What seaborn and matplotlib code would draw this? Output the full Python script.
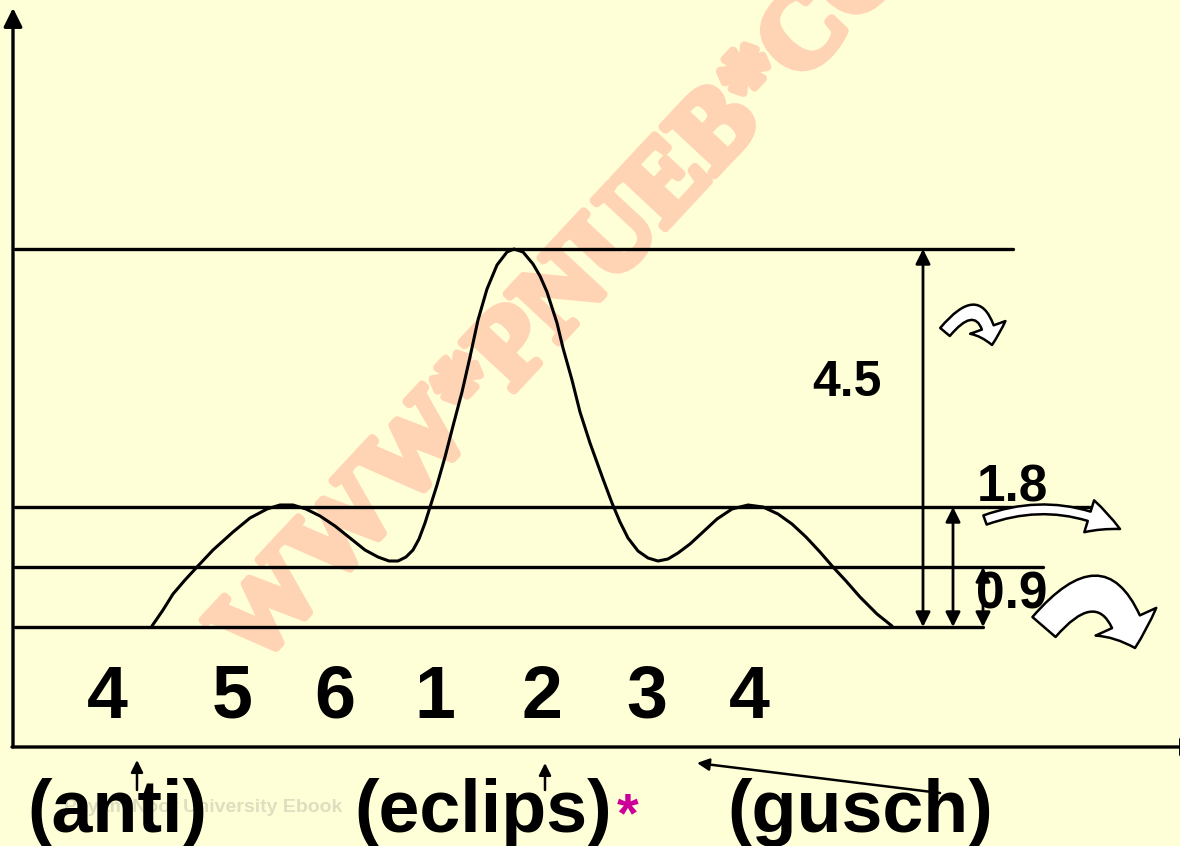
import numpy as np
import pandas as pd
import seaborn as sns
import matplotlib
matplotlib.use("Agg")
import matplotlib.pyplot as plt
import matplotlib.patheffects as pe
from matplotlib.patches import FancyArrowPatch, ArrowStyle

# ---------------- data (schematic energy profile) ----------------
# x: horizontal position along the rotation coordinate (drawing units)
# y: height above the lowest level (drawing units, baseline = 0)
curve_x = [152, 163, 173, 185, 197, 213, 233, 250, 267, 280, 293, 306, 320, 335,
           350, 365, 378, 389, 398, 406, 413, 419, 425, 431, 437, 445, 453, 462,
           470, 478, 487, 497, 507, 514, 523, 533, 540, 547, 557, 563, 572, 580,
           590, 603, 612, 620, 628, 638, 648, 658, 668, 678, 690, 703, 717, 732,
           748, 763, 778, 792, 806, 820, 833, 846, 860, 877, 892]
curve_px = [626, 610, 594, 580, 567, 550, 532, 518, 509, 505, 505, 509, 516, 526,
            538, 550, 557, 561, 561, 557, 550, 539, 523, 504, 485, 457, 426, 392,
            357, 320, 289, 265, 252, 249, 252, 264, 276, 292, 323, 348, 380, 412,
            443, 479, 503, 522, 538, 551, 558, 561, 559, 553, 544, 532, 519, 509,
            505, 507, 514, 524, 537, 552, 567, 581, 597, 614, 626]
BASE = 627
curve_y = [BASE - v for v in curve_px]

level_labels = ["4.5", "1.8", "0.9"]
level_heights = [378, 120, 60]          # drawn heights of the three barriers
level_right = [1013, 1090, 1043]        # right end of each level line
arrow_x = [923, 953, 983]               # double arrows for each barrier

angle_labels = ["4", "5", "6", "1", "2", "3", "4"]
angle_pos = [107, 232, 335, 435, 542, 647, 749]

conf_labels = ["(anti)", "(eclips)", "(gusch)"]
conf_pos = [117, 483, 860]

# ---------------- style ----------------
BG = "#FFFFD7"
sns.set_theme(style="white", rc={"figure.facecolor": BG, "axes.facecolor": BG,
                                 "text.color": "black"})
plt.rcParams["font.family"] = ["Liberation Sans", "DejaVu Sans"]

fig = plt.figure(figsize=(11.8, 8.46), dpi=100)
ax = fig.add_axes([0, 0, 1, 1])
ax.set_xlim(0, 1180)
ax.set_ylim(BASE - 846, BASE)
ax.set_axis_off()

# watermark
WM = "#FFD4B4"
ax.text(598, BASE - 262, "WWW*PNUEB*COM", rotation=47, rotation_mode="anchor",
        ha="center", va="center", fontsize=78, family="Liberation Serif",
        weight="bold", color=WM, zorder=1,
        path_effects=[pe.withStroke(linewidth=6, foreground=WM)])
ax.text(64, BASE - 807, "Payam Noor University Ebook", fontsize=14,
        color="#DEDEC0", weight="bold", va="center", zorder=0)

# horizontal levels
lev_df = pd.DataFrame({"x": [15, 983] + sum([[15, r] for r in level_right], []),
                       "y": [0, 0] + sum([[h, h] for h in level_heights], []),
                       "g": [0, 0, 1, 1, 2, 2, 3, 3]})
sns.lineplot(data=lev_df, x="x", y="y", units="g", estimator=None,
             color="black", lw=2.4, ax=ax, zorder=3)

# energy curve
sns.lineplot(x=curve_x, y=curve_y, sort=False, color="black", lw=2.2, ax=ax,
             zorder=4, solid_joinstyle="round")

# axes arrows
ax.annotate("", xy=(13, BASE - 8), xytext=(13, BASE - 747), annotation_clip=False,
            arrowprops=dict(arrowstyle="-|>", lw=2.4, color="black",
                            mutation_scale=28, shrinkA=0, shrinkB=0))
ax.annotate("", xy=(1200, BASE - 747), xytext=(12, BASE - 747), annotation_clip=False,
            arrowprops=dict(arrowstyle="-|>", lw=2.4, color="black",
                            mutation_scale=28, shrinkA=0, shrinkB=0))

# barrier double arrows
for xa, h in zip(arrow_x, level_heights):
    ax.annotate("", xy=(xa, h), xytext=(xa, 0),
                arrowprops=dict(arrowstyle="<|-|>", lw=2, color="black",
                                mutation_scale=22, shrinkA=0, shrinkB=0))

# level labels
ax.text(847, BASE - 383, level_labels[0], fontsize=36, weight="bold",
        ha="center", va="center", zorder=5)
ax.text(1012, BASE - 488, level_labels[1], fontsize=37, weight="bold",
        ha="center", va="center", zorder=5)
ax.text(1012, BASE - 595, level_labels[2], fontsize=37, weight="bold",
        ha="center", va="center", zorder=5)

# curved white arrows (rotation symbols)
def curved(p0, p1, rad, tail, hw, hl):
    st = ArrowStyle.Simple(head_length=hl, head_width=hw, tail_width=tail)
    a = FancyArrowPatch(p0, p1, connectionstyle=f"arc3,rad={rad}",
                        arrowstyle=st, mutation_scale=1, fc="white",
                        ec="black", lw=1.8, shrinkA=0, shrinkB=0, zorder=7)
    ax.add_patch(a)

curved((945, BASE - 332), (992, BASE - 345), -1.1, 9, 27, 13)
curved((985, BASE - 520), (1120, BASE - 529), -0.22, 7, 24, 24)
curved((1044, BASE - 627), (1135, BASE - 648), -0.95, 22, 48, 20)

# angle labels
for lab, xp in zip(angle_labels, angle_pos):
    ax.text(xp, BASE - 698, lab, fontsize=53, weight="bold",
            ha="center", va="center", zorder=5)

# conformation labels
for lab, xp in zip(conf_labels, conf_pos):
    ax.text(xp, BASE - 832, lab, fontsize=53, weight="bold",
            ha="center", va="baseline", zorder=5)
ax.text(628, BASE - 817, "*", fontsize=40, weight="bold", color="#CC0099",
        ha="center", va="center", zorder=5)

# small pointer arrows
for (x0, y0), (x1, y1) in [((137, 790), (137, 760)), ((545, 790), (545, 763)),
                           ((940, 793), (697, 763))]:
    ax.annotate("", xy=(x1, BASE - y1), xytext=(x0, BASE - y0),
                arrowprops=dict(arrowstyle="-|>", lw=1.8, color="black",
                                mutation_scale=18, shrinkA=0, shrinkB=0), zorder=8)

fig.savefig("out.png", dpi=100, facecolor=BG)
